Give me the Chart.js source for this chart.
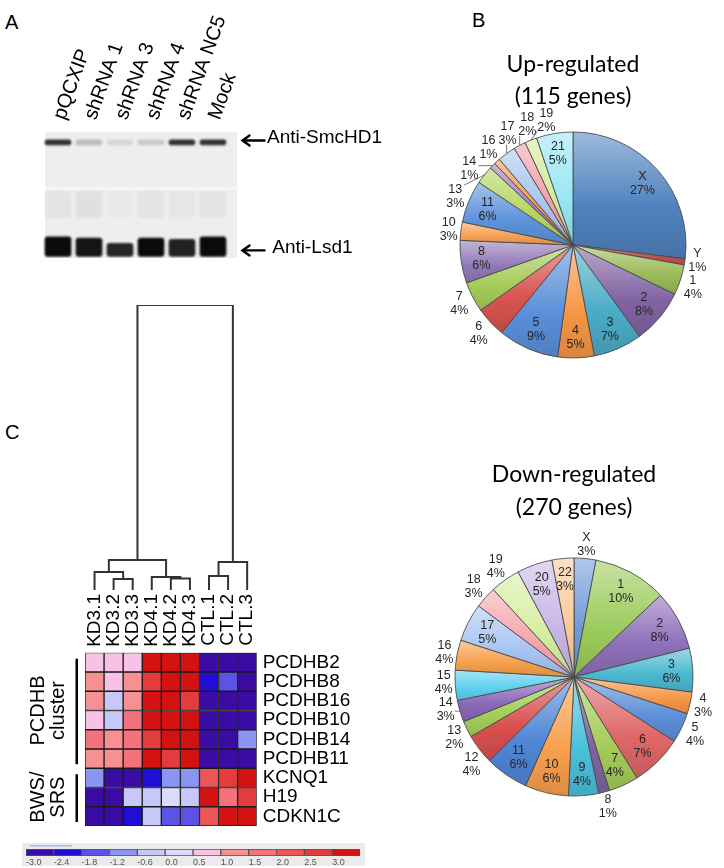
<!DOCTYPE html>
<html>
<head>
<meta charset="utf-8">
<script src="https://cdn.jsdelivr.net/npm/chart.js@4.4.1/dist/chart.umd.min.js"></script>
<style>
html, body { margin: 0; padding: 0; background: #fff; }
#page { position: relative; width: 724px; height: 868px; overflow: hidden; font-family: Arial, "Liberation Sans", sans-serif; }
canvas { position: absolute; }
.panel { position: absolute; font-size: 20px; line-height: 24px; color: #000; }
</style>
</head>
<body>
<div id="page">
  <div class="panel" style="left:5px;top:10px">A</div>
  <div class="panel" style="left:472px;top:8px">B</div>
  <div class="panel" style="left:5px;top:420px">C</div>
  <canvas id="blot" width="440" height="300" style="left:0;top:0"></canvas>
  <canvas id="pieUp" width="304" height="345" style="left:420px;top:30px"></canvas>
  <canvas id="pieDown" width="304" height="428" style="left:420px;top:440px"></canvas>
  <canvas id="tree" width="360" height="370" style="left:0;top:280px"></canvas>
  <canvas id="heat" width="360" height="200" style="left:0;top:640px"></canvas>
  <canvas id="scale" width="370" height="30" style="left:0;top:838px"></canvas>
</div>
<script>
// ---- panel A: western blot ----
var laneLabels = ["pQCXIP", "shRNA 1", "shRNA 3", "shRNA 4", "shRNA NC5", "Mock"];
var smcIntensity = [0.85, 0.22, 0.1, 0.16, 0.85, 0.85];
var lsdIntensity = [1.0, 0.96, 0.88, 1.0, 0.9, 1.0];
var lsdTop = [83, 84, 88, 84, 85, 83];
var hazeIntensity = [0.06, 0.08, 0.02, 0.06, 0.04, 0.05];
var bandNames = ["Anti-SmcHD1", " Anti-Lsd1"];
var bandMarks = [4.8, 92];

// ---- panel B: chromosome distribution ----
var upNames = ["X", "Y", "1", "2", "3", "4", "5", "6", "7", "8", "10", "11", "13", "14", "16", "17", "18", "19", "21"];
var upGenes = [31, 1, 5, 9, 8, 6, 10, 5, 5, 7, 3, 7, 3, 1, 1, 3, 2, 2, 6];
var downNames = ["X", "1", "2", "3", "4", "5", "6", "7", "8", "9", "10", "11", "12", "13", "14", "15", "16", "17", "18", "19", "20", "22"];
var downGenes = [8, 27, 22, 16, 8, 11, 19, 11, 4, 11, 16, 16, 11, 6, 8, 11, 11, 14, 8, 11, 13, 8];

// ---- panel C: clustering + heatmap ----
var sampleNames = ["KD3.1", "KD3.2", "KD3.3", "KD4.1", "KD4.2", "KD4.3", "CTL.1", "CTL.2", "CTL.3"];
var geneNames = ["PCDHB2", "PCDHB8", "PCDHB16", "PCDHB10", "PCDHB14", "PCDHB11", "KCNQ1", "H19", "CDKN1C"];
var expression = [
  [0.5, 0.5, 0.5, 3.0, 3.0, 3.0, -3.0, -3.0, -3.0],
  [1.0, 0.5, 1.0, 2.5, 3.0, 3.0, -2.4, -1.8, -3.0],
  [1.0, -0.6, 1.0, 3.0, 3.0, 2.5, -3.0, -3.0, -3.0],
  [0.5, -0.6, 1.5, 3.0, 3.0, 3.0, -3.0, -3.0, -3.0],
  [1.5, 1.0, 1.5, 2.5, 3.0, 3.0, -3.0, -3.0, -1.2],
  [1.0, 1.0, 1.5, 3.0, 2.5, 3.0, -3.0, -3.0, -3.0],
  [-1.2, -3.0, -3.0, -2.4, -1.2, -1.2, 2.0, 2.5, 3.0],
  [-3.0, -3.0, -0.6, -0.6, 0.0, -0.6, 3.0, 1.5, 2.5],
  [-3.0, -3.0, -2.4, -0.6, -1.8, -1.8, 2.0, 3.0, 3.0]
];
// dendrogram merges: nodes 0-8 are samples, merge k creates node 9+k
var mergeLeft = [1, 0, 4, 3, 10, 6, 14, 13];
var mergeRight = [2, 9, 5, 11, 12, 7, 8, 15];
var mergeHeight = [11, 18, 11.5, 13, 30, 14, 28, 285];

var scaleBins = [-3.0, -2.4, -1.8, -1.2, -0.6, 0.0, 0.5, 1.0, 1.5, 2.0, 2.5, 3.0];
var scaleLabels = ["-3.0", "-2.4", "-1.8", "-1.2", "-0.6", "0.0", "0.5", "1.0", "1.5", "2.0", "2.5", "3.0"];
var scaleColors = ["#3a0ca3", "#1f0fd6", "#5d52e6", "#8c94f3", "#c6c9f7", "#dcdcfa",
                   "#f8c2e6", "#f79090", "#f4727b", "#ec5656", "#e23c3c", "#d51212"];

var upColors = ["#4f81bd", "#c0504d", "#9bbb59", "#8064a2", "#4bacc6", "#f79646", "#5b8fd8",
                "#d9534f", "#a6cc5a", "#9178b8", "#f7a054", "#5e93db", "#b4d65e", "#9e7cc1",
                "#f79646", "#a8c4f0", "#f2a0a8", "#d2eb9a", "#99e6f5"];
var downColors = ["#6e9bd8", "#9bcb5b", "#8e6fb9", "#4bb8d0", "#f79646", "#5e8fd8", "#e06666",
                  "#a6cc5a", "#8064a2", "#4bc0da", "#f8a04e", "#4f86d6", "#d94f4f", "#a6d05a",
                  "#8a68b8", "#5ed0ee", "#f7a14c", "#a9c6f2", "#f4a7ad", "#d6eea0", "#c9b6e6", "#fbc99a"];

Chart.defaults.font.family = "Arial, 'Liberation Sans', sans-serif";
Chart.defaults.color = "#000";
Chart.defaults.animation = false;
Chart.defaults.plugins.legend.display = false;
Chart.defaults.plugins.tooltip.enabled = false;

function shade(hex, amt) {
  var n = parseInt(hex.slice(1), 16);
  var c = [n >> 16, (n >> 8) & 255, n & 255].map(function (v) {
    return Math.round(amt >= 0 ? v + (255 - v) * amt : v * (1 + amt));
  });
  return "rgb(" + c.join(",") + ")";
}

// keep tick labels from shrinking the plot area
function noEdgePad(s) {
  s.paddingTop = 0; s.paddingBottom = 0; s.paddingLeft = 0; s.paddingRight = 0;
}

// ---------- blot ----------
var gelPlugin = {
  id: "gel",
  beforeDatasetsDraw: function (chart) {
    var a = chart.chartArea, ctx = chart.ctx, y = chart.scales.y;
    ctx.save();
    ctx.fillStyle = "#eeeeee";
    ctx.fillRect(a.left + 2.5, a.top, a.right - a.left + 6, a.bottom - a.top);
    ctx.fillStyle = "#f8f8f8";
    ctx.fillRect(a.left + 2.5, y.getPixelForValue(44), a.right - a.left + 6, 2);
    ctx.restore();
    ctx.save();
    ctx.filter = "blur(1.3px)";
  },
  afterDatasetsDraw: function (chart) {
    chart.ctx.restore();
  },
  afterDraw: function (chart) {
    // arrows pointing at the bands
    var ctx = chart.ctx, a = chart.chartArea, y2 = chart.scales.y2;
    ctx.save();
    ctx.strokeStyle = "#000";
    ctx.lineWidth = 2.4;
    ctx.lineCap = "round";
    bandMarks.forEach(function (v) {
      var y = y2.getPixelForValue(v) + 2.5, x0 = a.right + 14, x1 = a.right + 36;
      ctx.beginPath();
      ctx.moveTo(x1, y); ctx.lineTo(x0, y);
      ctx.moveTo(x0 + 7, y - 5); ctx.lineTo(x0, y); ctx.lineTo(x0 + 7, y + 5);
      ctx.stroke();
    });
    ctx.restore();
  }
};

new Chart(document.getElementById("blot"), {
  type: "bar",
  data: {
    labels: laneLabels,
    datasets: [
      { data: laneLabels.map(function () { return [47, 68]; }),
        backgroundColor: hazeIntensity.map(function (v) { return "rgba(60,60,60," + v + ")"; }) },
      { data: laneLabels.map(function () { return [6, 10.5]; }),
        backgroundColor: smcIntensity.map(function (v) { return "rgba(15,15,15," + v + ")"; }) },
      { data: lsdTop.map(function (t) { return [t, 99]; }),
        backgroundColor: lsdIntensity.map(function (v) { return "rgba(10,10,10," + v + ")"; }) }
    ]
  },
  options: {
    responsive: false,
    layout: { padding: { left: 42.5, right: 0, top: 0, bottom: 42 } },
    datasets: { bar: { grouped: false, barPercentage: 0.86, categoryPercentage: 1, borderRadius: 3, borderSkipped: false } },
    scales: {
      x: {
        position: "top",
        grid: { display: false, drawTicks: false },
        border: { display: false },
        ticks: { minRotation: 70, maxRotation: 70, autoSkip: false, padding: 9, labelOffset: 24,
                 font: { size: 20 }, color: "#000" },
        afterFit: function (s) { s.height = 132; noEdgePad(s); }
      },
      y: { min: 0, max: 100, reverse: true, display: false },
      y2: {
        position: "right", min: 0, max: 100, reverse: true,
        grid: { display: false, drawTicks: false },
        border: { display: false },
        afterBuildTicks: function (axis) { axis.ticks = bandMarks.map(function (v) { return { value: v }; }); },
        ticks: { padding: 38.5, font: { size: 19 }, color: "#000",
                 callback: function (v, i) { return bandNames[i]; } },
        afterFit: function (s) { s.width = 211.5; noEdgePad(s); }
      }
    }
  },
  plugins: [gelPlugin]
});

// ---------- pies ----------
function sliceFill(colors) {
  return function (context) {
    var chart = context.chart, area = chart.chartArea;
    var base = colors[context.dataIndex];
    if (!area || context.type !== "data") return base;
    var vals = context.dataset.data;
    var total = vals.reduce(function (a, b) { return a + b; }, 0);
    var before = 0;
    for (var k = 0; k < context.dataIndex; k++) before += vals[k];
    var a0 = -Math.PI / 2 + 2 * Math.PI * before / total;
    var a1 = a0 + 2 * Math.PI * vals[context.dataIndex] / total;
    var cy = (area.top + area.bottom) / 2;
    var r = Math.min(area.right - area.left, area.bottom - area.top) / 2;
    var minY = cy, maxY = cy;
    for (var s = 0; s <= 12; s++) {
      var y = cy + r * Math.sin(a0 + (a1 - a0) * s / 12);
      minY = Math.min(minY, y); maxY = Math.max(maxY, y);
    }
    if (maxY - minY < 2) maxY = minY + 2;
    var g = chart.ctx.createLinearGradient(0, minY, 0, maxY);
    g.addColorStop(0, shade(base, 0.45));
    g.addColorStop(0.6, base);
    g.addColorStop(1, shade(base, -0.12));
    return g;
  };
}

function drawLines(ctx, lines, x, y) {
  ctx.fillText(lines[0], x, y - 7);
  ctx.fillText(lines[1], x, y + 7);
}

function pieLabels(names, outside) {
  return {
    id: "pieLabels",
    afterDatasetsDraw: function (chart) {
      var ctx = chart.ctx;
      var vals = chart.data.datasets[0].data;
      var total = vals.reduce(function (a, b) { return a + b; }, 0);
      var lw = 19, lh = 27, ow = 18, oh = 22;
      var outs = [];
      ctx.save();
      ctx.font = "12.5px Arial, 'Liberation Sans', sans-serif";
      ctx.fillStyle = "#262626";
      ctx.textAlign = "center";
      ctx.textBaseline = "middle";
      chart.getDatasetMeta(0).data.forEach(function (arc, i) {
        var p = arc.getProps(["x", "y", "startAngle", "endAngle", "outerRadius"], true);
        var mid = (p.startAngle + p.endAngle) / 2;
        var lines = [names[i], Math.round(vals[i] / total * 100) + "%"];
        if (outside.indexOf(names[i]) < 0) {
          var rr = p.outerRadius * 0.82;
          drawLines(ctx, lines, p.x + rr * Math.cos(mid), p.y + rr * Math.sin(mid));
        } else {
          outs.push({ lines: lines, mid: mid, ang: mid, p: p });
        }
      });
      function place(o) {
        var c = Math.cos(o.ang), s = Math.sin(o.ang);
        var R = o.p.outerRadius + 2 + 0.5 * (Math.abs(c) * ow + Math.abs(s) * oh);
        o.x = o.p.x + R * c; o.y = o.p.y + R * s;
      }
      outs.forEach(place);
      for (var it = 0; it < 500; it++) {
        var moved = false;
        for (var j = 0; j < outs.length - 1; j++) {
          var a = outs[j], b = outs[j + 1];
          if (Math.abs(a.x - b.x) < lw && Math.abs(a.y - b.y) < lh) {
            a.ang -= 0.004; b.ang += 0.004; place(a); place(b); moved = true;
          }
        }
        if (!moved) break;
      }
      ctx.strokeStyle = "#555";
      ctx.lineWidth = 0.8;
      outs.forEach(function (o) {
        var ex = o.p.x + o.p.outerRadius * Math.cos(o.mid);
        var ey = o.p.y + o.p.outerRadius * Math.sin(o.mid);
        var bx = Math.max(o.x - ow / 2, Math.min(ex, o.x + ow / 2));
        var by = Math.max(o.y - oh / 2, Math.min(ey, o.y + oh / 2));
        if (Math.hypot(bx - ex, by - ey) > 5) {
          ctx.beginPath(); ctx.moveTo(ex, ey); ctx.lineTo(bx, by); ctx.stroke();
        }
        drawLines(ctx, o.lines, o.x, o.y);
      });
      ctx.restore();
    }
  };
}

function makePie(id, names, genes, colors, title, pad, titlePad, lineHeight, outside) {
  return new Chart(document.getElementById(id), {
    type: "pie",
    data: {
      labels: names,
      datasets: [{ data: genes, backgroundColor: sliceFill(colors), borderColor: "rgba(70,70,70,0.85)", borderWidth: 1 }]
    },
    options: {
      responsive: false,
      layout: { padding: pad },
      plugins: {
        title: {
          display: true, text: title, color: "#000", padding: titlePad,
          font: { family: "Lato, 'Open Sans', sans-serif", size: 23, weight: "normal", lineHeight: lineHeight }
        }
      }
    },
    plugins: [pieLabels(names, outside)]
  });
}

makePie("pieUp", upNames, upGenes, upColors, ["Up-regulated", "(115 genes)"],
  { left: 39.5, right: 37.5, top: 0, bottom: 16.5 }, { top: 19, bottom: 18.5 }, 32 / 23,
  ["Y", "1", "6", "7", "10", "13", "14", "16", "17", "18", "19"]);
makePie("pieDown", downNames, downGenes, downColors, ["Down-regulated", "(270 genes)"],
  { left: 34.5, right: 30.5, top: 0, bottom: 71.5 }, { top: 18.5, bottom: 33 }, 33 / 23,
  ["X", "4", "5", "8", "12", "13", "14", "15", "16", "18", "19"]);

// ---------- dendrogram ----------
var nodeX = sampleNames.map(function (n, i) { return i; });
var nodeH = sampleNames.map(function () { return 0; });
var treeSets = [];
mergeLeft.forEach(function (l, k) {
  var r = mergeRight[k], h = mergeHeight[k];
  treeSets.push({
    data: [{ x: nodeX[l], y: nodeH[l] }, { x: nodeX[l], y: h }, { x: nodeX[r], y: h }, { x: nodeX[r], y: nodeH[r] }],
    showLine: true, pointRadius: 0, borderColor: "#333", borderWidth: 2, tension: 0
  });
  nodeX.push((nodeX[l] + nodeX[r]) / 2);
  nodeH.push(h);
});

new Chart(document.getElementById("tree"), {
  type: "scatter",
  data: { datasets: treeSets },
  options: {
    responsive: false,
    layout: { padding: { left: 85, right: 103.3, top: 25, bottom: 0 } },
    scales: {
      x: {
        type: "linear", min: -0.5, max: 8.5,
        grid: { display: false, drawTicks: false },
        border: { display: false },
        afterBuildTicks: function (axis) { axis.ticks = sampleNames.map(function (n, i) { return { value: i }; }); },
        ticks: { minRotation: 90, maxRotation: 90, autoSkip: false, padding: 4, font: { size: 19 }, color: "#000",
                 callback: function (v, i) { return sampleNames[i]; } },
        afterFit: function (s) { s.height = 60; noEdgePad(s); }
      },
      y: { min: 0, max: Math.max.apply(null, mergeHeight), display: false }
    }
  }
});

// ---------- heatmap ----------
function cellColor(v) {
  var best = 0;
  scaleBins.forEach(function (b, i) { if (Math.abs(b - v) < Math.abs(scaleBins[best] - v)) best = i; });
  return scaleColors[best];
}

var groupPlugin = {
  id: "groups",
  afterDraw: function (chart) {
    var ctx = chart.ctx, y = chart.scales.y;
    var groups = [
      { from: 0, to: 6, lines: ["PCDHB", "cluster"] },
      { from: 6, to: 9, lines: ["BWS/", "SRS"] }
    ];
    ctx.save();
    ctx.fillStyle = "#000";
    ctx.font = "20px Arial, 'Liberation Sans', sans-serif";
    ctx.textAlign = "center";
    ctx.textBaseline = "middle";
    groups.forEach(function (g) {
      var y0 = y.getPixelForValue(g.from), y1 = y.getPixelForValue(g.to);
      ctx.fillRect(75.5, y0 + 6, 2.5, y1 - y0 - 10);
      ctx.save();
      ctx.translate(0, (y0 + y1) / 2);
      ctx.rotate(-Math.PI / 2);
      ctx.fillText(g.lines[0], 0, 38);
      ctx.fillText(g.lines[1], 0, 58);
      ctx.restore();
    });
    ctx.restore();
  }
};

new Chart(document.getElementById("heat"), {
  type: "bar",
  data: {
    labels: sampleNames,
    datasets: geneNames.map(function (g, r) {
      return {
        label: g,
        data: sampleNames.map(function () { return 1; }),
        backgroundColor: expression[r].map(cellColor),
        borderColor: "#1a1a1a", borderWidth: 1, borderSkipped: false,
        barPercentage: 1, categoryPercentage: 1
      };
    })
  },
  options: {
    responsive: false,
    layout: { padding: { left: 85, right: 0, top: 12.7, bottom: 14 } },
    scales: {
      x: { stacked: true, display: false },
      y: {
        stacked: true, min: 0, max: 9, reverse: true, position: "right",
        grid: { display: false, drawTicks: false },
        border: { display: false },
        afterBuildTicks: function (axis) { axis.ticks = geneNames.map(function (g, i) { return { value: i + 0.5 }; }); },
        ticks: { autoSkip: false, padding: 6, font: { size: 19 }, color: "#000",
                 callback: function (v, i) { return geneNames[i]; } },
        afterFit: function (s) { s.width = 103.3; noEdgePad(s); }
      }
    }
  },
  plugins: [groupPlugin]
});

// ---------- colour scale ----------
var stripPlugin = {
  id: "strip",
  beforeDraw: function (chart) {
    var a = chart.chartArea, ctx = chart.ctx;
    ctx.save();
    ctx.fillStyle = "#ebebeb";
    ctx.fillRect(a.left - 4, a.top - 6, a.right - a.left + 9, a.bottom - a.top + 16);
    ctx.fillStyle = "#9fbde6";
    ctx.fillRect(a.left + 4, a.top - 4, 42, 1.5);
    ctx.restore();
  }
};

new Chart(document.getElementById("scale"), {
  type: "bar",
  data: {
    labels: [""],
    datasets: scaleColors.map(function (c, i) {
      return { data: [[i, i + 1]], backgroundColor: c, borderColor: "#555", borderWidth: 1, borderSkipped: false };
    })
  },
  options: {
    responsive: false,
    indexAxis: "y",
    layout: { padding: { left: 26, right: 10, top: 11, bottom: 0 } },
    datasets: { bar: { grouped: false, barPercentage: 1, categoryPercentage: 1 } },
    scales: {
      x: {
        type: "linear", min: 0, max: 12,
        grid: { display: false, drawTicks: false },
        border: { display: false },
        afterBuildTicks: function (axis) { axis.ticks = scaleLabels.map(function (t, i) { return { value: i }; }); },
        ticks: { align: "start", padding: 1, font: { size: 9 }, color: "#555",
                 callback: function (v, i) { return scaleLabels[i]; } },
        afterFit: function (s) { s.height = 12; noEdgePad(s); }
      },
      y: { display: false }
    }
  },
  plugins: [stripPlugin]
});
</script>
</body>
</html>
